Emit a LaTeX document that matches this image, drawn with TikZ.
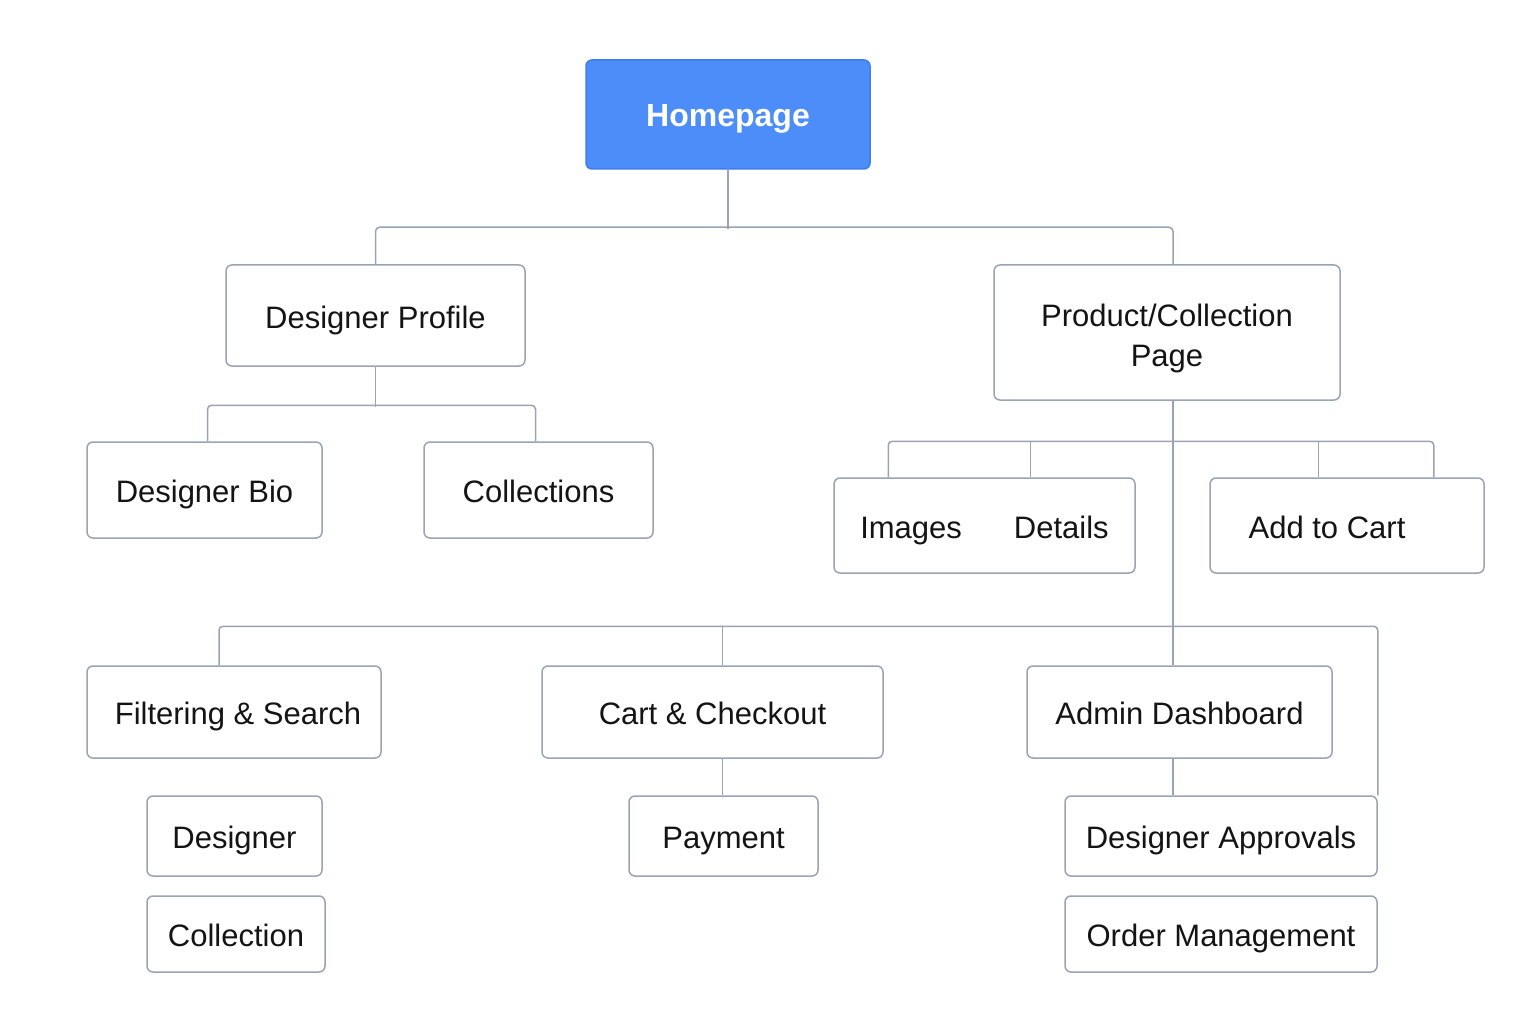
\documentclass[tikz,border=0pt]{standalone}
\usepackage{fontspec}
\setmainfont{Liberation Sans}
\usepackage{xcolor}
\usepackage{tikz}
\usetikzlibrary{positioning,calc}
\definecolor{linegrey}{HTML}{9AA3B4}
\definecolor{ink}{HTML}{141414}
\definecolor{homeblue}{HTML}{4C8DF9}
\definecolor{homeedge}{HTML}{3D7DEC}
\tikzset{
  pagebox/.style={draw=linegrey, line width=1.5pt, rounded corners=6pt, inner sep=0pt, text=ink,
                  font=\fontsize{31}{38}\selectfont, align=center},
  onebox/.style={pagebox, text height=30pt, text depth=5pt},
  homebox/.style={onebox, fill=homeblue, draw=homeedge, text=white, font=\fontsize{32}{38}\selectfont\bfseries},
  link/.style={draw=linegrey, line width=1.5pt, rounded corners=4pt}
}

\begin{document}
\begin{tikzpicture}[x=1pt, y=-1pt]

                  \fill[white] (0,0) rectangle (1536,1024);
                  \useasboundingbox (0,0) rectangle (1536,1024);

                  % top level
                  \draw (728,114.5) node[homebox, minimum width=284, minimum height=109] (home) {Homepage};
                  \draw (375.5,315.5) node[onebox, minimum width=299, minimum height=101] (dp) {Designer Profile};
                  \draw (1167,332.5) node[pagebox, minimum width=346, minimum height=135] (pc) {\rule{0pt}{35pt}Product/Collection\\[2pt]Page};

                  % designer profile children
                  \draw (204.5,490) node[onebox, minimum width=235, minimum height=96] (bio) {Designer Bio};
                  \draw (538.5,490) node[onebox, minimum width=229, minimum height=96] (cols) {Collections};

                  % product page children
                  \draw (984.5,525.5) node[onebox, minimum width=301, minimum height=95] (imgs) {Images\hspace{52pt}Details};
                  \draw (1347,525.5) node[onebox, minimum width=274, minimum height=95] (cart) {Add to Cart\hspace*{40pt}};

                  % third row
                  \draw (234,712) node[onebox, minimum width=294, minimum height=92] (filter) {\hspace*{8pt}Filtering \& Search};
                  \draw (712.5,712) node[onebox, minimum width=341, minimum height=92] (checkout) {Cart \& Checkout};
                  \draw (1179.5,712) node[onebox, minimum width=305, minimum height=92] (admin) {Admin Dashboard};

                  % leaves
                  \draw (234.5,836) node[onebox, minimum width=175, minimum height=80] (fdes) {Designer};
                  \draw (236,934) node[onebox, minimum width=178, minimum height=76] (fcol) {Collection};
                  \draw (723.5,836) node[onebox, minimum width=189, minimum height=80] (pay) {Payment};
                  \draw (1221,836) node[onebox, minimum width=312, minimum height=80] (appr) {Designer Approvals};
                  \draw (1221,934) node[onebox, minimum width=312, minimum height=76] (orders) {Order Management};

                  % connectors
                  \draw [link] (home.south) -- ++(0,59);
                  \draw [link] (dp.north) -- ++(0,-37) -| ([xshift=6pt]pc.north);
                  \draw [link] (dp.south) -- ++(0,40);
                  \draw [link] ([xshift=3pt]bio.north) -- ++(0,-36) -| ([xshift=-3pt]cols.north);
                  \draw [link] ([xshift=6pt]pc.south) -- ([xshift=6pt]pc.south |- admin.north);
                  \draw [link] ([xshift=55pt]imgs.north west) -- ++(0,-36) -| ([xshift=-51pt]cart.north east);
                  \draw [link] ([xshift=197pt]imgs.north west) -- ++(0,-36);
                  \draw [link] ([xshift=109pt]cart.north west) -- ++(0,-36);
                  \draw [link] ([xshift=-15pt]filter.north) -- ++(0,-39) -| (appr.north east);
                  \draw [link] ([xshift=10pt]checkout.north) -- ++(0,-39);
                  \draw [link] ([xshift=10pt]checkout.south) -- ([xshift=10pt]checkout.south |- pay.north);
                  \draw [link] ([xshift=-6.5pt]admin.south) -- ([xshift=-6.5pt]admin.south |- appr.north);

                \end{tikzpicture}
\end{document}
